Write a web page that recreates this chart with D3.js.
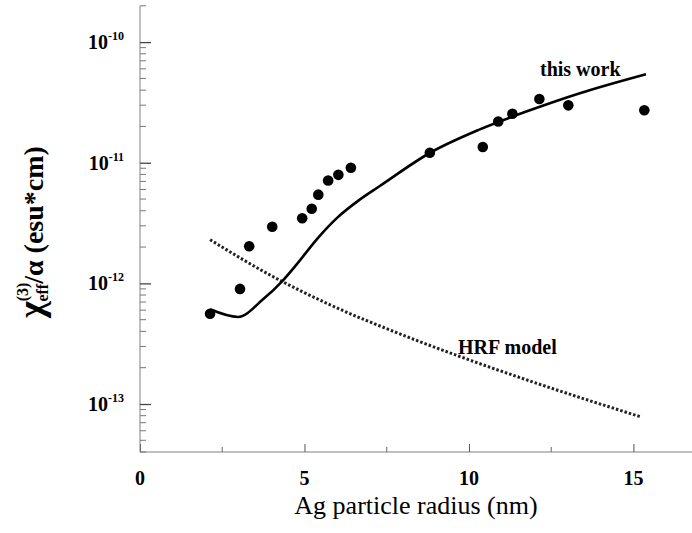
<!DOCTYPE html>
<html>
<head>
<meta charset="utf-8">
<script src="https://cdn.jsdelivr.net/npm/d3@7"></script>
<style>
  body { margin: 0; background: #fff; }
  svg { display: block; font-family: "Liberation Serif", "DejaVu Serif", serif; }
</style>
</head>
<body>
<svg id="chart"></svg>
<script>
// measured points (radius nm, chi/alpha esu*cm)
const measuredRadius = [2.13, 3.04, 3.32, 4.02, 4.93, 5.22, 5.42, 5.72, 6.03, 6.41, 8.81, 10.42, 10.89, 11.32, 12.14, 13.02, 15.33];
const measuredChi = [5.6e-13, 9.0e-13, 2.03e-12, 2.95e-12, 3.47e-12, 4.15e-12, 5.44e-12, 7.13e-12, 7.94e-12, 9.08e-12, 1.21e-11, 1.35e-11, 2.2e-11, 2.55e-11, 3.38e-11, 2.99e-11, 2.72e-11];

// "this work" model curve
const workRadius = [2.13, 2.98, 3.74, 4.32, 4.77, 5.38, 5.99, 6.69, 7.3, 8.82, 10.33, 11.85, 13.37, 15.38];
const workChi = [6.1e-13, 5.27e-13, 7.38e-13, 1.04e-12, 1.445e-12, 2.33e-12, 3.49e-12, 4.97e-12, 6.44e-12, 1.21e-11, 1.89e-11, 2.72e-11, 3.77e-11, 5.42e-11];

// HRF model curve
const hrfRadius = [2.13, 4.05, 5.78, 7.9, 9.68, 11.95, 15.25];
const hrfChi = [2.3e-12, 1.135e-12, 6.64e-13, 3.81e-13, 2.5e-13, 1.52e-13, 7.78e-14];

const xTicks = [0, 5, 10, 15];
const xMinorTicks = [2.5, 7.5, 12.5];
const yTicks = [1e-10, 1e-11, 1e-12, 1e-13];
const yExponents = ["-10", "-11", "-12", "-13"];

const width = 692, height = 533;
const svg = d3.select("#chart").attr("width", width).attr("height", height);

const x = d3.scaleLinear().domain([0, 16.78]).range([140, 692]);
const y = d3.scaleLog().domain([4e-14, 2e-10]).range([452, 5.8]);

const axisColor = "#808080";

// x axis (ticks pointing inward)
const xAxis = svg.append("g")
  .attr("transform", `translate(0,${y.range()[0]})`)
  .call(d3.axisBottom(x).tickValues(xTicks).tickSize(-8).tickFormat(""));
xAxis.select(".domain").attr("stroke", axisColor).attr("d", `M${x.range()[0]},0H${x.range()[1]}`);
xAxis.selectAll(".tick line").attr("stroke", "#555");

svg.append("g")
  .attr("transform", `translate(0,${y.range()[0]})`)
  .selectAll("line")
  .data(xMinorTicks)
  .join("line")
  .attr("x1", d => x(d)).attr("x2", d => x(d))
  .attr("y1", 0).attr("y2", -5)
  .attr("stroke", "#666");

svg.append("g")
  .selectAll("text")
  .data(xTicks)
  .join("text")
  .attr("x", d => x(d))
  .attr("y", 485)
  .attr("text-anchor", "middle")
  .style("font-size", "20px")
  .style("font-weight", "bold")
  .text(d => d);

// y axis
const yMinor = [];
for (let e = -14; e <= -10; e++) {
  for (let m = 2; m <= 9; m++) {
    const v = m * Math.pow(10, e);
    if (v >= 4e-14 && v <= 2e-10) yMinor.push(v);
  }
}

const yAxis = svg.append("g")
  .attr("transform", `translate(${x.range()[0]},0)`)
  .call(d3.axisLeft(y).tickValues(yTicks).tickSize(-11).tickFormat(""));
yAxis.select(".domain").attr("stroke", axisColor).attr("d", `M0,${y.range()[0]}V${y.range()[1]}`);
yAxis.selectAll(".tick line").attr("stroke", "#444").attr("stroke-width", 1.3);

svg.append("g")
  .attr("transform", `translate(${x.range()[0]},0)`)
  .selectAll("line")
  .data(yMinor)
  .join("line")
  .attr("x1", 0).attr("x2", 6)
  .attr("y1", d => y(d)).attr("y2", d => y(d))
  .attr("stroke", "#777");

const yLabels = svg.append("g")
  .selectAll("text")
  .data(yTicks)
  .join("text")
  .attr("x", 124)
  .attr("y", d => y(d) + 7)
  .attr("text-anchor", "end")
  .style("font-weight", "bold");
yLabels.append("tspan").style("font-size", "20px").text("10");
yLabels.append("tspan").style("font-size", "12px").attr("dy", -9).text((d, i) => yExponents[i]);

// axis titles
svg.append("text")
  .attr("x", 416)
  .attr("y", 514)
  .attr("text-anchor", "middle")
  .style("font-size", "26px")
  .text("Ag particle radius (nm)");

const yTitle = svg.append("text")
  .attr("transform", "translate(43,232) rotate(-90)")
  .attr("text-anchor", "middle")
  .style("font-weight", "bold")
  .style("font-size", "28px");
yTitle.append("tspan").style("font-size", "36px").text("χ");
yTitle.append("tspan").style("font-size", "16px").attr("dy", -15).text("(3)");
yTitle.append("tspan").style("font-size", "16px").attr("dx", -19).attr("dy", 20).text("eff");
yTitle.append("tspan").attr("dy", -5).text("/α  (esu*cm)");

// curves
const line = d3.line().x(d => x(d[0])).y(d => y(d[1])).curve(d3.curveMonotoneX);

svg.append("path")
  .datum(d3.zip(hrfRadius, hrfChi))
  .attr("d", line)
  .attr("fill", "none")
  .attr("stroke", "#222")
  .attr("stroke-width", 3)
  .attr("stroke-dasharray", "2.5,2");

svg.append("path")
  .datum(d3.zip(workRadius, workChi))
  .attr("d", line)
  .attr("fill", "none")
  .attr("stroke", "#000")
  .attr("stroke-width", 2.6);

svg.append("g")
  .selectAll("circle")
  .data(d3.zip(measuredRadius, measuredChi))
  .join("circle")
  .attr("cx", d => x(d[0]))
  .attr("cy", d => y(d[1]))
  .attr("r", 5.3)
  .attr("fill", "#000");

// curve labels
svg.append("text")
  .attr("x", 540).attr("y", 76)
  .style("font-size", "20px").style("font-weight", "bold")
  .text("this work");

svg.append("text")
  .attr("x", 458).attr("y", 354)
  .style("font-size", "20px").style("font-weight", "bold")
  .text("HRF model");
</script>
</body>
</html>
